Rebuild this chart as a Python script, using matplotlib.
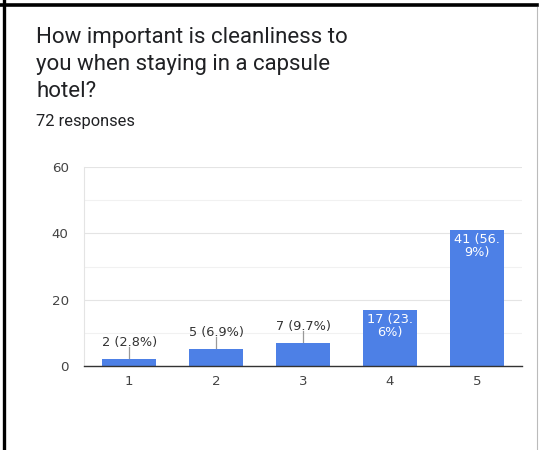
import matplotlib.pyplot as plt
from matplotlib.lines import Line2D

categories = ['1', '2', '3', '4', '5']
counts = [2, 5, 7, 17, 41]
labels_out = ['2 (2.8%)', '5 (6.9%)', '7 (9.7%)']
labels_in = ['17 (23.\n6%)', '41 (56.\n9%)']
title_lines = ['How important is cleanliness to', 'you when staying in a capsule', 'hotel?']

W, H = 539, 450
fig = plt.figure(figsize=(W / 100, H / 100), dpi=100)
fig.patch.set_facecolor('white')

# question header (pixel baselines)
for k, line in enumerate(title_lines):
    fig.text(36 / W, 1 - (43 + 27 * k) / H, line, fontsize=16, color='#202124',
             va='baseline', ha='left', family='Roboto')
fig.text(36 / W, 1 - 126 / H, '72 responses', fontsize=11.8, color='#202124',
         va='baseline', ha='left', family='Roboto')

ax = fig.add_axes([84 / W, 1 - 366 / H, 438 / W, 199 / H])
x = list(range(1, len(categories) + 1))
ax.bar(x, counts, width=0.62, color='#4d80e6', zorder=3)

ax.set_xlim(0.48, 5.52)
ax.set_ylim(0, 60)
ax.set_yticks([0, 20, 40, 60])
ax.set_yticks([10, 30, 50], minor=True)
ax.set_xticks(x)
ax.set_xticklabels(categories)
ax.grid(axis='y', which='major', color='#e4e4e4', lw=0.8, zorder=0)
ax.grid(axis='y', which='minor', color='#f1f1f1', lw=0.8, zorder=0)
ax.tick_params(axis='both', which='both', length=0, labelsize=9.6, colors='#444444')
ax.tick_params(axis='y', pad=11)
ax.tick_params(axis='x', pad=6.5)
for s in ['top', 'right']:
    ax.spines[s].set_visible(False)
ax.spines['left'].set_color('#e4e4e4')
ax.spines['left'].set_linewidth(0.8)
ax.spines['bottom'].set_color('#333333')
ax.spines['bottom'].set_linewidth(1.0)
ax.spines['bottom'].set_zorder(4)

# labels above the short bars, with leader lines
for i, lab in enumerate(labels_out):
    v = counts[i]
    ax.plot([x[i], x[i]], [v, v + 3.6], color='#999999', lw=0.9, zorder=2)
    ax.text(x[i], v + 4.0, lab, ha='center', va='baseline', fontsize=9.3, color='#333333')

# labels inside the tall bars
for j, lab in enumerate(labels_in):
    i = len(labels_out) + j
    ax.text(x[i], counts[i] - 1.0, lab, ha='center', va='top', fontsize=9.3,
            color='white', linespacing=1.0)

# screenshot frame
fig.add_artist(Line2D([4 / W, 4 / W], [0, 1], transform=fig.transFigure, color='black', lw=2.4))
fig.add_artist(Line2D([0, 537 / W], [1 - 5 / H, 1 - 5 / H], transform=fig.transFigure,
                      color='black', lw=2.6))
fig.add_artist(Line2D([537 / W, 537 / W], [0, 1 - 7 / H], transform=fig.transFigure,
                      color='#bbbbbb', lw=0.8))

fig.savefig('out.png', dpi=100)
